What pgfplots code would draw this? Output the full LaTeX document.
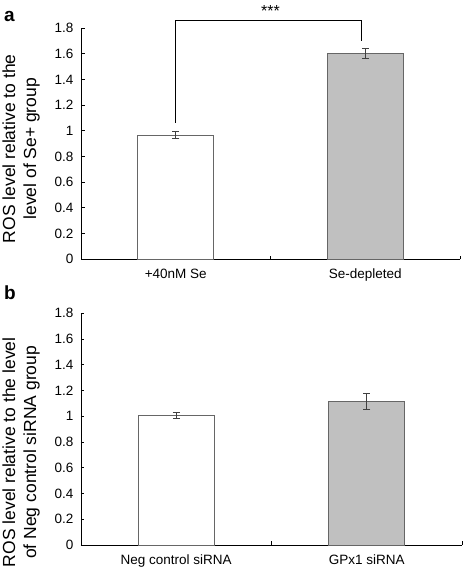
\documentclass[border=0pt]{standalone}
\usepackage{pgfplots}
\pgfplotsset{compat=1.18}
\usepackage{fontspec}
\setmainfont{Liberation Sans}
\definecolor{barline}{HTML}{666666}
\definecolor{barfill}{HTML}{C0C0C0}
\definecolor{errc}{HTML}{404040}
\pgfplotsset{
  panel/.style={
    scale only axis,
    axis x line=bottom, axis y line=left,
    axis line style={-, line width=0.9pt, black},
    xmin=-0.5, xmax=1.5, ymin=0, ymax=1.8,
    ytick={0,0.2,0.4,0.6,0.8,1,1.2,1.4,1.6,1.8},
    yticklabels={0,0.2,0.4,0.6,0.8,1,1.2,1.4,1.6,1.8},
    xtick={0.5,1.5}, xticklabels={},
    tick align=inside, major tick length=3.5pt,
    tick style={black, line width=0.9pt},
    ticklabel style={font=\fontsize{13.5}{15}\selectfont},
    yticklabel style={xshift=-4pt},
    extra x tick style={major tick length=0pt, xticklabel style={yshift=-6pt}},
    clip=false,
  },
  ebar/.style={ybar, bar width=0.4, bar shift=0pt, draw=barline, line width=1pt,
    error bars/y dir=both, error bars/y explicit,
    error bars/error bar style={errc, line width=0.9pt},
    error bars/error mark options={errc, rotate=90, mark size=3.5pt, line width=0.9pt}},
}
\begin{document}
\begin{tikzpicture}
\useasboundingbox (0,0) rectangle (464pt,568pt);
\begin{axis}[panel, width=379pt, height=231.3pt, at={(81pt,308.7pt)}, anchor=south west,
  extra x ticks={0,1}, extra x tick labels={+40nM Se,Se-depleted},
  ylabel={ROS level relative to the\\level of Se+ group},
  ylabel style={align=center, font=\fontsize{17.5}{21}\selectfont, inner sep=0pt,
    at={(axis description cs:-0.108,0.478)}, anchor=south},
]
\addplot[ebar, fill=white] coordinates {(0,0.967) +- (0,0.027)};
\addplot[ebar, fill=barfill] coordinates {(1,1.603) +- (0,0.037)};
\draw[black, line width=0.9pt] (axis cs:0,1.063) -- (axis cs:0,1.858) -- (axis cs:0.98,1.858) -- (axis cs:0.98,1.697);
\node[anchor=base, inner sep=0pt, font=\fontsize{16}{18}\selectfont] at ([yshift=3.8pt]axis cs:0.5,1.858) {***};
\end{axis}
\begin{axis}[panel, width=381pt, height=231.7pt, at={(81pt,23pt)}, anchor=south west,
  extra x ticks={0,1}, extra x tick labels={Neg control siRNA,GPx1 siRNA},
  ylabel={ROS level relative to the level\\of Neg control siRNA group},
  ylabel style={align=center, font=\fontsize{17.5}{21}\selectfont, inner sep=0pt,
    at={(axis description cs:-0.108,0.40)}, anchor=south},
]
\addplot[ebar, fill=white] coordinates {(0,1.008) +- (0,0.025)};
\addplot[ebar, fill=barfill] coordinates {(1,1.117) +- (0,0.061)};
\end{axis}
\node[anchor=base west, inner sep=0pt, font=\bfseries\fontsize{19}{21}\selectfont] at (4pt,546pt) {a};
\node[anchor=base west, inner sep=0pt, font=\bfseries\fontsize{19}{21}\selectfont] at (4pt,268pt) {b};
\end{tikzpicture}
\end{document}
